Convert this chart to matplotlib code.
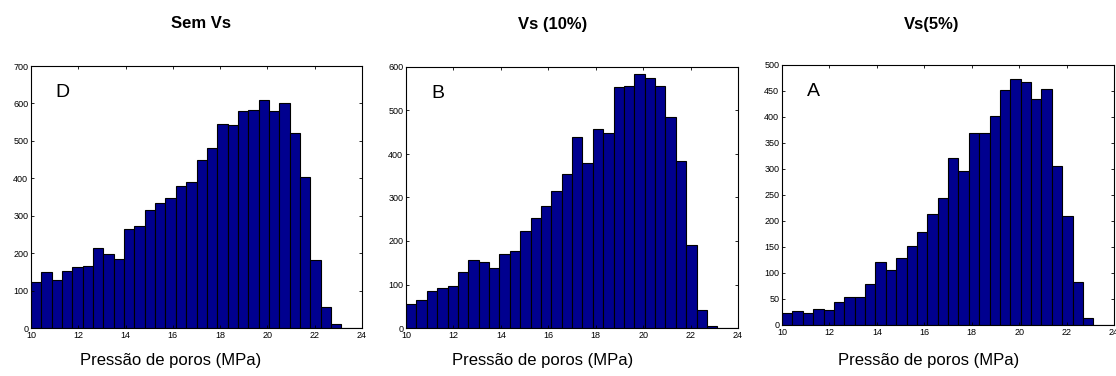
import numpy as np
import matplotlib
matplotlib.use("Agg")
import matplotlib.pyplot as plt

plt.rcParams['font.family'] = ['Liberation Sans', 'DejaVu Sans']

# Histogram bin edges (MPa)
bin_start, bin_stop, n_bins = 10, 24, 32

titles = ["Sem Vs", "Vs (10%)", "Vs(5%)"]
letters = ["D", "B", "A"]
xlabel = "Pressão de poros (MPa)"

counts_sem_vs = [122, 150, 127, 153, 164, 165, 215, 199, 185, 264, 273, 314,
                 335, 348, 379, 391, 448, 482, 545, 543, 579, 583, 610, 579,
                 602, 520, 403, 181, 56, 12, 1, 1]
counts_vs10 = [55, 64, 85, 91, 97, 129, 157, 151, 139, 171, 177, 222,
               254, 281, 316, 354, 440, 380, 458, 448, 553, 557, 585, 575,
               556, 484, 385, 191, 42, 5, 0, 0]
counts_vs5 = [23, 26, 23, 30, 28, 45, 53, 53, 78, 121, 106, 128,
              151, 179, 213, 245, 322, 296, 369, 369, 402, 451, 474, 468,
              435, 454, 306, 210, 83, 13, 0, 0]

all_counts = [counts_sem_vs, counts_vs10, counts_vs5]
y_max = [700, 600, 500]
y_step = [100, 100, 50]
x_ticks = [10, 12, 14, 16, 18, 20, 22, 24]

W, H = 1116, 376
fig = plt.figure(figsize=(W / 100, H / 100), dpi=100)

# axes boxes in pixels: left, top, right, bottom
boxes = [(31, 66, 362, 328), (406, 67, 738, 328), (782, 65, 1114, 325)]
title_x = [201, 553, 932]
label_x = [171, 543, 929]

edges = np.linspace(bin_start, bin_stop, n_bins + 1)

for i in range(3):
    l, t, r, b = boxes[i]
    ax = fig.add_axes([l / W, 1 - b / H, (r - l) / W, (b - t) / H])
    ax.bar(edges[:-1], all_counts[i], width=np.diff(edges), align='edge',
           color='#00008f', edgecolor='black', linewidth=0.8)
    ax.set_xlim(bin_start, bin_stop)
    ax.set_ylim(0, y_max[i])
    ax.set_xticks(x_ticks)
    ax.set_yticks(np.arange(0, y_max[i] + 1, y_step[i]))
    ax.tick_params(direction='in', length=2.5, width=0.6, labelsize=6.5,
                   top=True, right=True, pad=2, colors='black')
    for s in ax.spines.values():
        s.set_linewidth(0.8)
    ax.text(0.075, 0.9, letters[i], transform=ax.transAxes, fontsize=14,
            ha='left', va='center')
    fig.text(title_x[i] / W, 1 - 24 / H, titles[i], ha='center', va='center',
             fontsize=12, fontweight='bold')
    fig.text(label_x[i] / W, 1 - 360 / H, xlabel, ha='center', va='center',
             fontsize=12)

fig.savefig("out.png", dpi=100)
